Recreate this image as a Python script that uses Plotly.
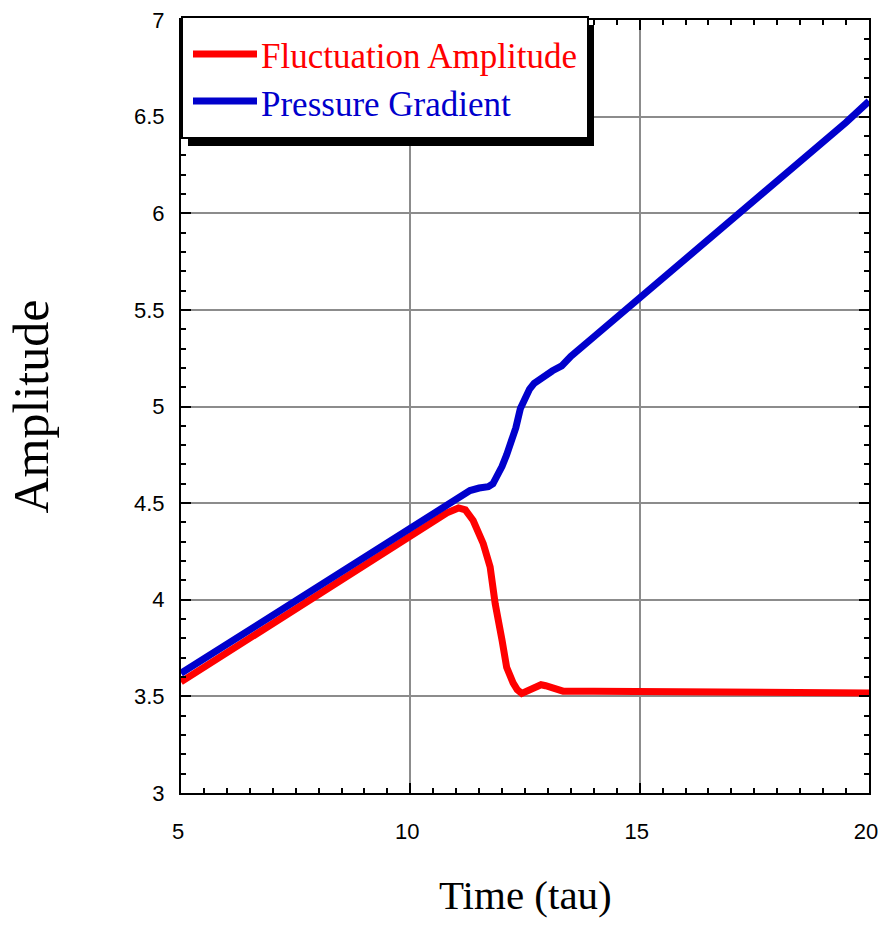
import plotly.graph_objects as go

# Time axis samples and curves
blue_time = [5.0, 5.5, 6.0, 6.5, 7.0, 7.5, 8.0, 8.5, 9.0, 9.5, 10.0, 10.5, 11.0,
             11.3, 11.5, 11.7, 11.8, 11.9, 12.0, 12.1, 12.2, 12.3, 12.4, 12.5,
             12.6, 12.7, 12.9, 13.1, 13.3, 13.5, 14.0, 14.5, 15.0, 15.5, 16.0,
             16.5, 17.0, 17.5, 18.0, 18.5, 19.0, 19.5, 20.0]
pressure_gradient = [3.62, 3.695, 3.77, 3.845, 3.92, 3.995, 4.07, 4.145, 4.22,
                     4.295, 4.37, 4.445, 4.525, 4.565, 4.578, 4.585, 4.60, 4.64,
                     4.69, 4.75, 4.81, 4.89, 4.99, 5.05, 5.09, 5.12, 5.155,
                     5.185, 5.21, 5.26, 5.36, 5.46, 5.565, 5.665, 5.77, 5.87,
                     5.97, 6.07, 6.17, 6.27, 6.37, 6.47, 6.58]

red_time = [5.0, 5.5, 6.0, 6.5, 7.0, 7.5, 8.0, 8.5, 9.0, 9.5, 10.0, 10.5, 10.8,
            11.05, 11.2, 11.37, 11.5, 11.59, 11.74, 11.85, 12.0, 12.1, 12.24,
            12.33, 12.43, 12.57, 12.71, 12.85, 12.95, 13.15, 13.33, 14.0, 15.0,
            16.0, 16.85, 16.95, 18.0, 19.0, 20.0]
fluctuation_amplitude = [3.575, 3.65, 3.725, 3.80, 3.875, 3.95, 4.025, 4.10,
                         4.175, 4.25, 4.325, 4.40, 4.45, 4.475, 4.465, 4.41,
                         4.35, 4.29, 4.17, 3.98, 3.79, 3.65, 3.57, 3.535, 3.515,
                         3.53, 3.55, 3.56, 3.555, 3.545, 3.527, 3.527, 3.527,
                         3.527, 3.527, 3.518, 3.518, 3.518, 3.518]

series_names = ["Fluctuation Amplitude", "Pressure Gradient"]
series_colors = ["#ff0000", "#0000cc"]

fig = go.Figure()
fig.add_trace(go.Scatter(x=red_time, y=fluctuation_amplitude, mode="lines",
                         line=dict(color=series_colors[0], width=7),
                         name=series_names[0], showlegend=False, cliponaxis=False))
fig.add_trace(go.Scatter(x=blue_time, y=pressure_gradient, mode="lines",
                         line=dict(color=series_colors[1], width=7),
                         name=series_names[1], showlegend=False, cliponaxis=False))

tick_font = dict(family="Liberation Sans Narrow, Arial Narrow, Liberation Sans, Arial",
                 size=22, color="black")
axis_common = dict(showline=True, linecolor="black", linewidth=2, mirror="allticks",
                   ticks="inside", ticklen=10, tickwidth=2, tickcolor="black",
                   showgrid=True, gridcolor="#8c8c8c", gridwidth=2,
                   zeroline=False, tickfont=tick_font, automargin=False,
                   ticklabeloverflow="allow")

fig.update_xaxes(range=[5, 20], tick0=5, dtick=5, ticklabelstandoff=18,
                 ticklabelshift=-3,
                 minor=dict(dtick=0.5, ticks="inside", ticklen=5, tickwidth=1.5,
                            tickcolor="black", showgrid=False),
                 **axis_common)
fig.update_yaxes(range=[3, 7], tick0=3, dtick=0.5, ticklabelstandoff=10,
                 minor=dict(dtick=0.1, ticks="inside", ticklen=5, tickwidth=1.5,
                            tickcolor="black", showgrid=False),
                 **axis_common)

# Legend box with a drop shadow, drawn in paper coordinates
W, H = 688.0, 773.0
L, T = 181.0, 20.0


def px(xp):
    return (xp - L) / W


def py(yp):
    return (T + H - yp) / H


shapes = [
    dict(type="rect", xref="paper", yref="paper", layer="above",
         x0=px(188), x1=px(594), y0=py(25), y1=py(146),
         fillcolor="black", line=dict(width=0)),
    dict(type="rect", xref="paper", yref="paper", layer="above",
         x0=px(182), x1=px(588), y0=py(17), y1=py(138),
         fillcolor="white", line=dict(color="black", width=2)),
]
legend_rows = [54, 101]
for row_y, color in zip(legend_rows, series_colors):
    shapes.append(dict(type="line", xref="paper", yref="paper", layer="above",
                       x0=px(193), x1=px(257), y0=py(row_y), y1=py(row_y),
                       line=dict(color=color, width=7)))

annotations = []
for row_y, name, color in zip(legend_rows, series_names, series_colors):
    annotations.append(dict(xref="paper", yref="paper", x=px(259), y=py(row_y + 3),
                            xanchor="left", yanchor="middle", showarrow=False,
                            text=name,
                            font=dict(family="Liberation Serif, Times New Roman, serif",
                                      size=35, color=color)))

annotations.append(dict(xref="paper", yref="paper", x=0.5, y=py(895),
                        xanchor="center", yanchor="middle", showarrow=False,
                        text="Time (tau)",
                        font=dict(family="Liberation Serif, Times New Roman, serif",
                                  size=41, color="black")))
annotations.append(dict(xref="paper", yref="paper", x=px(30), y=0.5,
                        xanchor="center", yanchor="middle", showarrow=False,
                        text="Amplitude", textangle=-90,
                        font=dict(family="Liberation Serif, Times New Roman, serif",
                                  size=50, color="black")))

fig.update_layout(width=880, height=926,
                  margin=dict(l=181, r=11, t=20, b=133),
                  paper_bgcolor="white", plot_bgcolor="white",
                  shapes=shapes, annotations=annotations, showlegend=False)

fig.write_html("out.html")
